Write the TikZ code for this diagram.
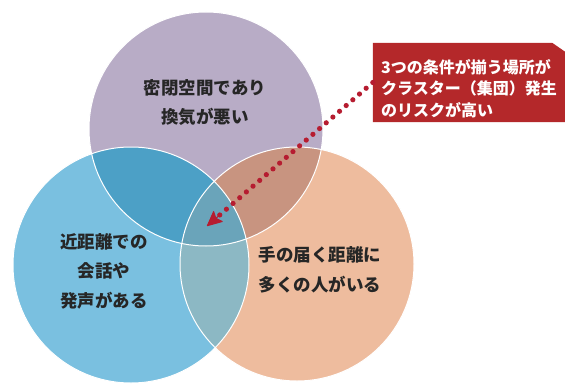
\documentclass[tikz,border=0pt]{standalone}
\usepackage{fontspec}
\setmainfont{Noto Sans CJK JP}
\usetikzlibrary{arrows.meta,calc}

\definecolor{closedpurple}{RGB}{184,172,198}
\definecolor{talkblue}{RGB}{122,192,224}
\definecolor{crowdorange}{RGB}{238,188,158}
\definecolor{pbblue}{RGB}{76,160,198}
\definecolor{pobrown}{RGB}{200,148,128}
\definecolor{bogray}{RGB}{140,184,196}
\definecolor{allteal}{RGB}{106,164,186}
\definecolor{riskred}{RGB}{180,40,42}
\definecolor{dotred}{RGB}{182,28,48}

\tikzset{
  vennedge/.style={draw=white, line width=1pt},
  venntext/.style={align=center, text=black!85,
    font=\fontsize{17.5}{29.5}\selectfont\bfseries},
  riskbox/.style={inner sep=0pt, minimum width=192pt, minimum height=79pt},
  dotline/.style={dotred, line width=5.2pt, line cap=round,
    dash pattern=on 0pt off 8.8pt, shorten >=15pt},
  tiphead/.style={dotred, line width=1pt,
    -{Stealth[length=16pt,width=15pt,inset=3pt,round]}}
}

\begin{document}
\begin{tikzpicture}[x=1pt,y=1pt]
    \useasboundingbox[fill=white] (0,0) rectangle (565,384);

    % Venn diagram style
    \fill[closedpurple] (206,255) circle (117pt);
    \fill[crowdorange] (297,120) circle (117pt);
    \fill[talkblue] (131,119) circle (118pt);

    % Highlight intersections
    \begin{scope}
        \clip (206,255) circle (117pt);
        \fill[pbblue] (131,119) circle (118pt);
        \fill[pobrown] (297,120) circle (117pt);
    \end{scope}
    \begin{scope}
        \clip (131,119) circle (118pt);
        \fill[bogray] (297,120) circle (117pt);
        \clip (206,255) circle (117pt);
        \fill[allteal] (297,120) circle (117pt);
    \end{scope}

    % white rims
    \draw[vennedge] (206,255) circle (117pt);
    \draw[vennedge] (297,120) circle (117pt);
    \draw[vennedge] (131,119) circle (118pt);

    \node[venntext] (closed) at (205,281.5) {密閉空間であり\\換気が悪い};
    \node[venntext] (talk) at (104,113) {近距離での\\会話や\\発声がある};
    \node[venntext] (crowd) at (320,114) {手の届く距離に\\多くの人がいる};

    % callout
    \node[riskbox] (risk) at (469,301.5) {};
    \fill[riskred] (risk.south west) -- (risk.north west)
      -- ([xshift=-13pt]risk.north east) -- ([yshift=-9pt]risk.north east)
      -- (risk.south east) -- cycle;
    \node[anchor=west, align=left, inner sep=0pt, text=white,
      font=\fontsize{16}{21.5}\selectfont\bfseries] (risktext) at (381,295.5)
      {3つの条件が揃う場所が\\クラスター（集団）発生\\のリスクが高い};
    \coordinate (overlap) at (207,158);
    \draw[dotline] (risk.west) -- (overlap);
    \draw[tiphead] ($(overlap)!16pt!(risk.west)$) -- (overlap);
\end{tikzpicture}
\end{document}
